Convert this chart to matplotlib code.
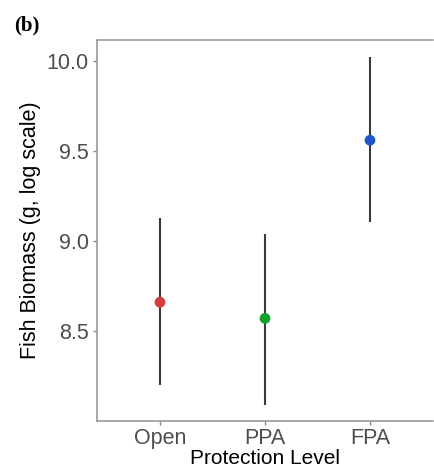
import numpy as np
import matplotlib.pyplot as plt
import matplotlib as mpl

mpl.rcParams['font.family'] = ['Liberation Sans', 'DejaVu Sans']

# data
levels = ['Open', 'PPA', 'FPA']
means = [8.66, 8.57, 9.56]
lower = [8.20, 8.09, 9.105]
upper = [9.13, 9.04, 10.02]
colors = ['#d93b3b', '#12a12a', '#2255c8']
yticks = [8.5, 9.0, 9.5, 10.0]

fig = plt.figure(figsize=(4.34, 4.71), dpi=100)
ax = fig.add_axes([97 / 434, 1 - 421 / 471, 336 / 434, 381 / 471])

x = np.arange(1, len(levels) + 1)
ax.vlines(x, lower, upper, color='#3a3a3a', linewidth=1.5, zorder=2)
ax.scatter(x, means, s=60, c=colors, zorder=3, edgecolors='none')

ax.set_xlim(0.4, 3.6)
ax.set_ylim(8.0, 10.117)
ax.set_xticks(x)
ax.set_xticklabels(levels)
ax.set_yticks(yticks)
ax.set_yticklabels([f'{v:.1f}' for v in yticks])

for side in ['left', 'bottom', 'top']:
    ax.spines[side].set_color('#9a9a9a')
    ax.spines[side].set_linewidth(1.2)
ax.spines['right'].set_visible(False)
ax.tick_params(axis='both', colors='#8a8a8a', length=3, width=1,
               labelsize=15.5, labelcolor='#4d4d4d', pad=3)
ax.tick_params(axis='x', pad=2)

ax.set_xlabel('Protection Level', fontsize=15, color='black', labelpad=0)
ax.set_ylabel('Fish Biomass (g, log scale)', fontsize=15.5, color='black', labelpad=4)

fig.text(14 / 434, 1 - 30 / 471, '(b)', family='Liberation Serif',
         fontweight='bold', fontsize=15)

fig.savefig('out.png', dpi=100)
